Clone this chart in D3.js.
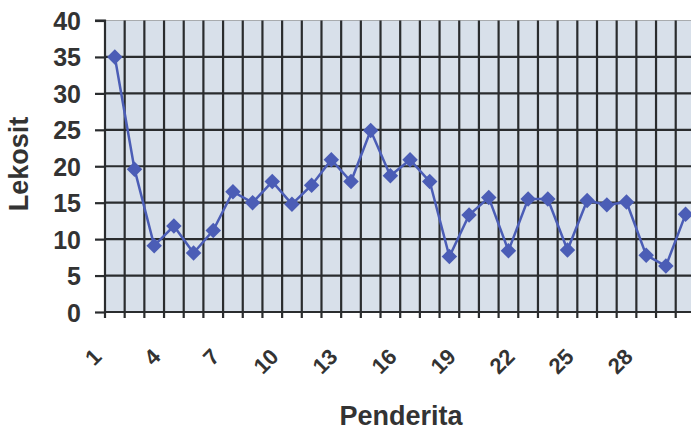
<!DOCTYPE html>
<html>
<head>
<meta charset="utf-8">
<script src="https://cdn.jsdelivr.net/npm/d3@7"></script>
<style>
  html, body { margin: 0; padding: 0; background: #ffffff; }
  svg { display: block; }
  text { font-family: "Liberation Sans", Arial, sans-serif; font-weight: bold; fill: #333333; }
</style>
</head>
<body>
<svg id="chart" width="691" height="432"></svg>
<script>
// Leukocyte count per patient
const patients = d3.range(1, 31);
const lekosit = [35, 19.6, 9.1, 11.8, 8.1, 11.2, 16.5, 15.0, 17.9, 14.8,
                 17.4, 20.9, 17.9, 24.9, 18.7, 20.9, 17.9, 7.6, 13.3, 15.7,
                 8.4, 15.5, 15.5, 8.5, 15.3, 14.7, 15.1, 7.8, 6.3, 13.4];
const yTicks = [0, 5, 10, 15, 20, 25, 30, 35, 40];
const xLabels = patients.filter(p => (p - 1) % 3 === 0);

const svg = d3.select("#chart");
const plotLeft = 105, plotTop = 20.5, plotBottom = 312, catW = 19.68;

const x = d3.scaleBand()
  .domain(patients)
  .range([plotLeft, plotLeft + patients.length * catW]);
const y = d3.scaleLinear().domain([0, 40]).range([plotBottom, plotTop]);
const plotRight = x.range()[1];

// plot area
svg.append("rect")
  .attr("x", plotLeft).attr("y", plotTop)
  .attr("width", plotRight - plotLeft).attr("height", plotBottom - plotTop)
  .attr("fill", "#d8e0ea");

// horizontal gridlines
svg.append("g").selectAll("line")
  .data(yTicks.filter(t => t > 0))
  .join("line")
  .attr("x1", plotLeft).attr("x2", plotRight)
  .attr("y1", d => y(d)).attr("y2", d => y(d))
  .attr("stroke", d => d === 40 ? "#a8abae" : "#2a2c2e")
  .attr("stroke-width", d => d === 40 ? 1.2 : 2.2);

// vertical gridlines at category boundaries, extending below as tick marks
const bounds = patients.map(p => x(p)).concat([plotRight]);
svg.append("g").selectAll("line")
  .data(bounds.slice(1))
  .join("line")
  .attr("x1", d => d).attr("x2", d => d)
  .attr("y1", plotTop).attr("y2", plotBottom + 6)
  .attr("stroke", "#2a2c2e").attr("stroke-width", 2.2);

// y axis with outward ticks
const yAxis = d3.axisLeft(y).tickValues(yTicks).tickSize(10).tickPadding(14);
const gy = svg.append("g").attr("transform", `translate(${plotLeft},0)`).call(yAxis);
gy.select(".domain").attr("stroke", "#2a2c2e").attr("stroke-width", 2.2)
  .attr("d", `M-10,${plotTop}H0V${plotBottom + 6}`);
gy.selectAll(".tick line").attr("stroke", "#2a2c2e").attr("stroke-width", 2.2);
gy.selectAll(".tick text").attr("font-size", 25).attr("fill", "#333")
  .attr("font-family", "Liberation Sans, Arial, sans-serif").attr("font-weight", "bold")
  .attr("dy", "0.36em");

// x axis line
svg.append("line")
  .attr("x1", plotLeft).attr("x2", plotRight)
  .attr("y1", plotBottom).attr("y2", plotBottom)
  .attr("stroke", "#2a2c2e").attr("stroke-width", 2.2);

// rotated category labels
svg.append("g").selectAll("text")
  .data(xLabels)
  .join("text")
  .attr("text-anchor", "end")
  .attr("font-size", 22)
  .attr("transform", d => `translate(${x(d) + x.bandwidth() / 2 - 12},358) rotate(-45)`)
  .text(d => d);

// series line and diamond markers
const cx = d => x(d) + x.bandwidth() / 2;
svg.append("path")
  .datum(patients)
  .attr("fill", "none")
  .attr("stroke", "#4b5db6")
  .attr("stroke-width", 2.5)
  .attr("d", d3.line().x(p => cx(p)).y((p, i) => y(lekosit[i])));

svg.append("g").selectAll("path")
  .data(patients)
  .join("path")
  .attr("d", d3.symbol(d3.symbolSquare, 120))
  .attr("transform", (p, i) => `translate(${cx(p)},${y(lekosit[i])}) rotate(45)`)
  .attr("fill", "#4b5db6");

// axis titles
svg.append("text")
  .attr("text-anchor", "middle")
  .attr("font-size", 27)
  .attr("x", 401).attr("y", 425)
  .text("Penderita");

svg.append("text")
  .attr("text-anchor", "middle")
  .attr("font-size", 27)
  .attr("transform", "translate(28,164) rotate(-90)")
  .text("Lekosit");
</script>
</body>
</html>
